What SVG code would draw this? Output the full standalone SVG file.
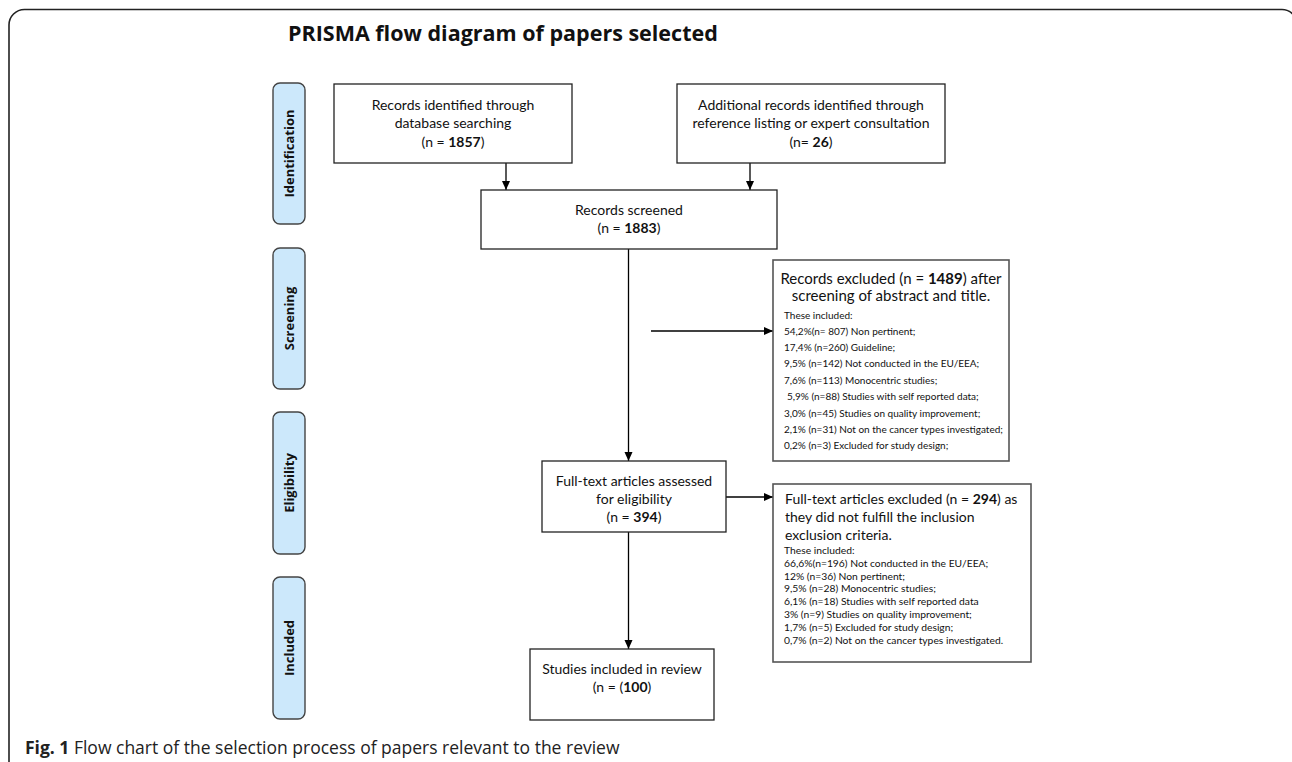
<svg xmlns="http://www.w3.org/2000/svg" width="1292" height="762" viewBox="0 0 1292 762">
<defs>
<marker id="ah" markerWidth="10" markerHeight="10" refX="9" refY="5" orient="auto" markerUnits="userSpaceOnUse">
<path d="M0,1 L9,5 L0,9 Z" fill="#000"/>
</marker>
<style>
.box{fill:#fff;stroke:#222;stroke-width:1.3}
.xbox{fill:#fff;stroke:#555;stroke-width:1.6}
.tab{fill:#cce8fb;stroke:#444;stroke-width:1.4}
.t{font-family:Lato,"Liberation Sans",sans-serif;font-size:14px;fill:#111;text-anchor:middle}
.tb{font-family:"Open Sans","Liberation Sans",sans-serif;font-size:13px;font-weight:bold;fill:#111;text-anchor:middle}
.big1{font-family:Lato,"Liberation Sans",sans-serif;font-size:15px;fill:#111;text-anchor:middle}
.big2{font-family:Lato,"Liberation Sans",sans-serif;font-size:14px;fill:#111}
.sm1{font-family:Lato,"Liberation Sans",sans-serif;font-size:10px;fill:#111}
.sm2{font-family:Lato,"Liberation Sans",sans-serif;font-size:10.3px;fill:#111}
.c{fill:none;stroke:#000;stroke-width:1.3}
</style>
</defs>
<rect width="1292" height="762" fill="#fff"/>
<path d="M9 770 V25 A15.5 15.5 0 0 1 24.5 9.5 H1282 A15 15 0 0 1 1297 24.5 V770" fill="none" stroke="#222" stroke-width="1.6"/>
<text x="288" y="41" font-family="Open Sans,Liberation Sans,sans-serif" font-size="21.5" font-weight="bold" fill="#111">PRISMA flow diagram of papers selected</text>

<g id="tab-identification"><rect class="tab" x="273" y="83" width="32" height="141" rx="7"/><text class="tb" transform="translate(294 153.5) rotate(-90)">Identification</text></g>
<g id="tab-screening"><rect class="tab" x="273" y="248" width="32" height="141" rx="7"/><text class="tb" transform="translate(294 318.5) rotate(-90)">Screening</text></g>
<g id="tab-eligibility"><rect class="tab" x="273" y="412" width="32" height="142" rx="7"/><text class="tb" transform="translate(294 483) rotate(-90)">Eligibility</text></g>
<g id="tab-included"><rect class="tab" x="273" y="577" width="32" height="142" rx="7"/><text class="tb" transform="translate(294 648) rotate(-90)">Included</text></g>

<g id="connectors">
<line class="c" x1="506" y1="163" x2="506" y2="190" marker-end="url(#ah)"/>
<line class="c" x1="750" y1="163" x2="750" y2="190" marker-end="url(#ah)"/>
<line class="c" x1="628.5" y1="249" x2="628.5" y2="461" marker-end="url(#ah)"/>
<line class="c" x1="651" y1="331" x2="773" y2="331" marker-end="url(#ah)"/>
<line class="c" x1="726" y1="497" x2="773" y2="497" marker-end="url(#ah)"/>
<line class="c" x1="628.5" y1="532" x2="628.5" y2="649" marker-end="url(#ah)"/>
</g>

<g id="box-db"><rect class="box" x="334" y="84" width="238" height="79"/>
<text class="t" x="453" y="110">Records identified through</text>
<text class="t" x="453" y="128">database searching</text>
<text class="t" x="453" y="147">(n = <tspan font-weight="bold">1857</tspan>)</text></g>

<g id="box-additional"><rect class="box" x="677" y="84" width="268" height="79"/>
<text class="t" x="811" y="110">Additional records identified through</text>
<text class="t" x="811" y="128">reference listing or expert consultation</text>
<text class="t" x="811" y="147">(n= <tspan font-weight="bold">26</tspan>)</text></g>

<g id="box-screened"><rect class="box" x="481" y="190" width="296" height="59"/>
<text class="t" x="629" y="215">Records screened</text>
<text class="t" x="629" y="233">(n = <tspan font-weight="bold">1883</tspan>)</text></g>

<g id="box-excluded1"><rect class="xbox" x="773" y="260" width="236" height="201"/>
<text class="big1" x="891" y="284">Records excluded (n = <tspan font-weight="bold">1489</tspan>) after</text>
<text class="big1" x="891" y="301">screening of abstract and title.</text>
<text class="sm1" x="784" y="318.5">These included:</text>
<text class="sm1" x="784" y="334.5">54,2%(n= 807) Non pertinent;</text>
<text class="sm1" x="784" y="351">17,4% (n=260) Guideline;</text>
<text class="sm1" x="784" y="367.3">9,5% (n=142) Not conducted in the EU/EEA;</text>
<text class="sm1" x="784" y="383.7">7,6% (n=113) Monocentric studies;</text>
<text class="sm1" x="787" y="400">5,9% (n=88) Studies with self reported data;</text>
<text class="sm1" x="784" y="416.5">3,0% (n=45) Studies on quality improvement;</text>
<text class="sm1" x="784" y="432.9">2,1% (n=31) Not on the cancer types investigated;</text>
<text class="sm1" x="784" y="449.3">0,2% (n=3) Excluded for study design;</text></g>

<g id="box-fulltext"><rect class="box" x="542" y="461" width="184" height="71"/>
<text class="t" x="634" y="486">Full-text articles assessed</text>
<text class="t" x="634" y="504">for eligibility</text>
<text class="t" x="634" y="522">(n = <tspan font-weight="bold">394</tspan>)</text></g>

<g id="box-excluded2"><rect class="xbox" x="773" y="484" width="258" height="178"/>
<text class="big2" x="785" y="504">Full-text articles excluded (n = <tspan font-weight="bold">294</tspan>) as</text>
<text class="big2" x="785" y="522">they did not fulfill the inclusion</text>
<text class="big2" x="785" y="540">exclusion criteria.</text>
<text class="sm2" x="784" y="553.6">These included:</text>
<text class="sm2" x="784" y="566.6">66,6%(n=196) Not conducted in the EU/EEA;</text>
<text class="sm2" x="784" y="579.5">12% (n=36) Non pertinent;</text>
<text class="sm2" x="784" y="592.4">9,5% (n=28) Monocentric studies;</text>
<text class="sm2" x="784" y="605.3">6,1% (n=18) Studies with self reported data</text>
<text class="sm2" x="784" y="618.2">3% (n=9) Studies on quality improvement;</text>
<text class="sm2" x="784" y="631.1">1,7% (n=5) Excluded for study design;</text>
<text class="sm2" x="784" y="644">0,7% (n=2) Not on the cancer types investigated.</text></g>

<g id="box-included"><rect class="box" x="530" y="649" width="184" height="71"/>
<text class="t" x="622" y="674">Studies included in review</text>
<text class="t" x="622" y="692">(n = (<tspan font-weight="bold">100</tspan>)</text></g>

<text x="25" y="754" font-family="Open Sans,Liberation Sans,sans-serif" font-size="17.5" fill="#222"><tspan font-weight="bold">Fig. 1</tspan> Flow chart of the selection process of papers relevant to the review</text>
</svg>
